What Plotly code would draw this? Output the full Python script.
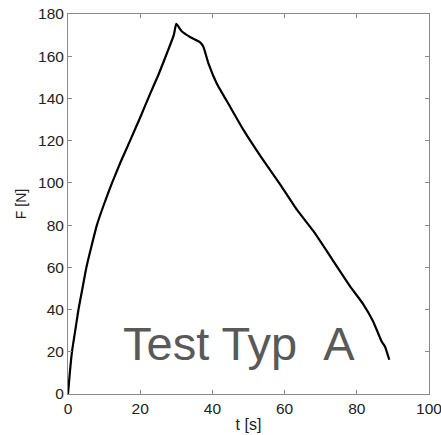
import plotly.graph_objects as go

t_s = [0, 0.5, 1.1, 2.0, 2.9, 4.0, 5.1, 6.5, 8.0, 10.0, 12.2, 14.6, 17.2, 20.0, 22.8, 25.0, 27.4, 29.3, 30.0,
       31.5, 33.9, 36.6, 37.5, 38.9, 41.2, 44.9, 48.6, 53.7, 58.8, 63.4, 68.0, 72.6, 78.1, 81.8, 84.5, 86.9, 87.8, 89.0]
F_N = [0, 10, 20, 30, 40, 50, 60, 70, 80, 90, 100, 110, 120, 131, 142.4, 151, 161.4, 170, 175.3,
       171.8, 169.0, 166.6, 164.5, 156.6, 147.1, 136.1, 125.1, 111.7, 99.2, 87.3, 77.1, 65.3, 51.1, 42.5, 34.5, 24.8, 22.5, 16.2]

x_ticks = [0, 20, 40, 60, 80, 100]
y_ticks = [0, 20, 40, 60, 80, 100, 120, 140, 160, 180]
label_text = "Test Typ&nbsp;&nbsp;A"

FONT = "Liberation Sans, Arial, sans-serif"

fig = go.Figure()
fig.add_trace(go.Scatter(x=t_s, y=F_N, mode="lines",
                         line=dict(color="black", width=2.2, shape="spline", smoothing=0.4),
                         showlegend=False, hoverinfo="skip"))

axis_common = dict(showline=True, linecolor="#8a8a8a", linewidth=1, mirror="ticks",
                   ticks="inside", ticklen=4, tickcolor="#8a8a8a", showgrid=False, zeroline=False,
                   automargin=False, ticklabeloverflow="allow",
                   tickfont=dict(family=FONT, size=15.5, color="#222"))

fig.update_xaxes(range=[0, 100], tickvals=x_ticks, **axis_common,
                 title=dict(text="t [s]", font=dict(family=FONT, size=16, color="#222"),
                            standoff=3))
fig.update_yaxes(range=[0, 180], tickvals=y_ticks, **axis_common,
                 title=dict(text="F [N]", font=dict(family=FONT, size=14, color="#222"),
                            standoff=8))

fig.add_annotation(x=47.5, y=24, xref="x", yref="y", text=label_text, showarrow=False,
                   font=dict(family=FONT, size=47, color="#595959"),
                   xanchor="center", yanchor="middle")

fig.update_layout(width=441, height=435, margin=dict(l=68, r=12, t=14, b=41),
                  plot_bgcolor="white", paper_bgcolor="white")

fig.write_html("out.html")
